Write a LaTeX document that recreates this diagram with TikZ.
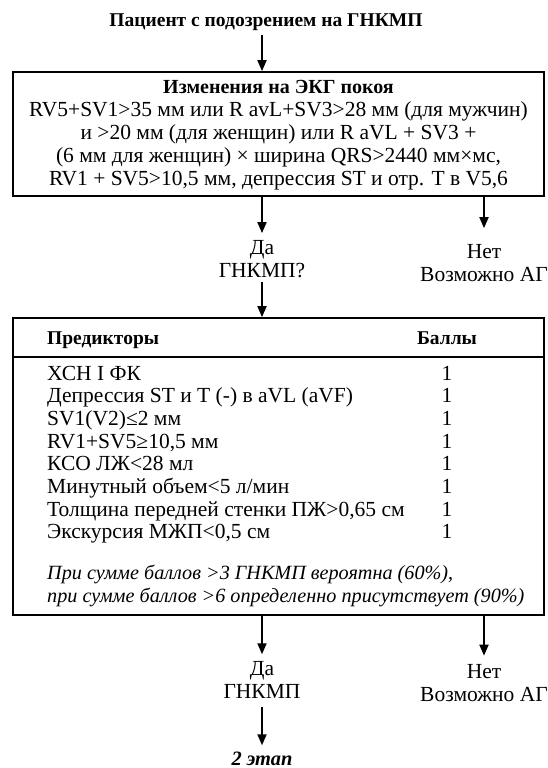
\documentclass[tikz,border=0pt]{standalone}
\usepackage{fontspec}
\setmainfont{Liberation Serif}
\usetikzlibrary{arrows.meta}

\tikzset{
  txt/.style={font=\fontsize{21.5}{23}\selectfont, inner sep=0pt, align=center},
  bold/.style={font=\fontsize{19.5}{23}\selectfont\bfseries, inner sep=0pt},
  note/.style={font=\fontsize{20.2}{23}\selectfont\itshape, inner sep=0pt, anchor=base west},
  frame/.style={draw, line width=1.7pt, inner sep=0pt},
  arr/.style={-{Triangle[length=11pt,width=9pt]}, line width=1.8pt}
}

\begin{document}
\begin{tikzpicture}[x=1pt,y=-1pt]
        \def\l{13}
        \def\r{544}
        \def\c{262}
        \def\n{484}
        \def\p{47}
        \def\s{447}

        \useasboundingbox (0,0) rectangle (547,768);

        % Patient
        \node[bold, anchor=base] (patient) at (266,27) {Пациент с подозрением на ГНКМП};

        % ECG box
        \node[frame, minimum width=\r-\l, minimum height=124] (ecg) at ({(\l+\r)/2},134) {};
        \node[txt] (ecgtext) at ({(\l+\r)/2},135) {{\bfseries\fontsize{20}{23}\selectfont Изменения на ЭКГ покоя}\\
          RV5+SV1>35 мм или R avL+SV3>28 мм (для мужчин)\\
          и >20 мм (для женщин) или R aVL + SV3 +\\
          (6 мм для женщин) × ширина QRS>2440 мм×мс,\\
          RV1 + SV5>10,5 мм, депрессия ST и отр. T в V5,6};

        % Answers
        \node[txt] (yes1) at (\c,259) {Да\\ГНКМП?};
        \node[txt] (no1) at (\n,263) {Нет\\Возможно АГ};

        % Predictors box
        \node[frame, minimum width=\r-\l, minimum height=297] (pred) at ({(\l+\r)/2},466.5) {};
        \draw[line width=1.7pt] (pred.west |- 0,357) -- (pred.east |- 0,357);
        \node[bold, anchor=base west] (predhead) at (\p,344) {Предикторы};
        \node[bold, anchor=base] (scorehead) at (\s,344) {Баллы};
        \foreach \i/\t in {0/{ХСН I ФК}, 1/{Депрессия ST и T (-) в aVL (aVF)}, 2/{SV1(V2)≤2 мм},
                           3/{RV1+SV5≥10,5 мм}, 4/{КСО ЛЖ<28 мл}, 5/{Минутный объем<5 л/мин},
                           6/{Толщина передней стенки ПЖ>0,65 см}, 7/{Экскурсия МЖП<0,5 см}}{
          \node[txt, anchor=base west] (item\i) at (\p,{380+22.7*\i}) {\t};
          \node[txt, anchor=base] (score\i) at (\s,{380+22.7*\i}) {1};
        }
        \node[note] (sum1) at (\p,579) {При сумме баллов >3 ГНКМП вероятна (60\%),};
        \node[note] (sum2) at (\p,602) {при сумме баллов >6 определенно присутствует (90\%)};

        % Answers
        \node[txt] (yes2) at (\c,680) {Да\\ГНКМП};
        \node[txt] (no2) at (\n,683.5) {Нет\\Возможно АГ};
        \node[txt, anchor=base, font=\fontsize{20.4}{23}\selectfont\bfseries\itshape] (stage) at (\c,765) {2 этап};

        % Arrows
        \draw[arr] ([yshift=-4pt]patient.south -| yes1) -- (ecg.north -| yes1);
        \draw[arr] (ecg.south -| yes1) -- ([yshift=7pt]yes1.north);
        \draw[arr] (ecg.south -| no1) -- ([yshift=16pt]no1.north);
        \draw[arr] ([yshift=-4pt]yes1.south) -- (pred.north -| yes1);
        \draw[arr] (pred.south -| yes2) -- ([yshift=7pt]yes2.north);
        \draw[arr] (pred.south -| no2) -- ([yshift=9pt]no2.north);
        \draw[arr] ([yshift=-8pt]yes2.south) -- ([yshift=6pt]stage.north);
\end{tikzpicture}
\end{document}
